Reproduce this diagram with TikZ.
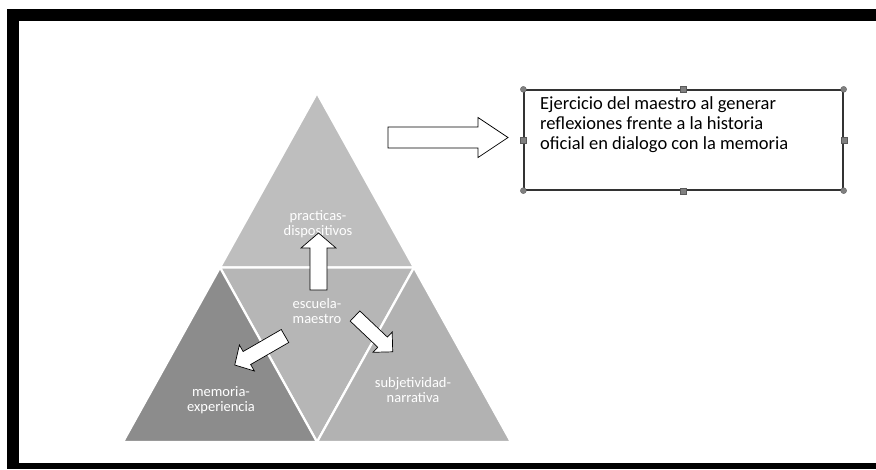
\documentclass[tikz,border=0pt]{standalone}
\usepackage{fontspec}
\setmainfont{Carlito}
\usetikzlibrary{calc}
\definecolor{topgray}{HTML}{BEBEBE}
\definecolor{midgray}{HTML}{B6B6B6}
\definecolor{leftgray}{HTML}{8C8C8C}
\definecolor{rightgray}{HTML}{B2B2B2}
\definecolor{handlegray}{HTML}{808080}
\definecolor{boxline}{HTML}{333333}
% block arrow: tail, angle, length, shaft half width, head half width, head length
\newcommand{\blockarrow}[6]{%
  \filldraw[barrow,shift={#1},rotate=#2]
    (0,#4) -- ({#3-#6},#4) -- ({#3-#6},#5) -- (#3,0) -- ({#3-#6},-#5)
    -- ({#3-#6},-#4) -- (0,-#4) -- cycle;}
\begin{document}
\begin{tikzpicture}[x=1pt,y=-1pt,
  tri/.style={draw=white,line width=2.2pt,line join=miter},
  tlabel/.style={text=white,align=center,inner sep=0pt,
    font=\fontsize{14.5}{14.5}\selectfont},
  barrow/.style={fill=white,draw=black,line width=0.7pt,line join=miter},
  handle/.style={fill=handlegray,draw=handlegray!70!black,line width=0.3pt}]
\useasboundingbox (0,0) rectangle (876,469);

% page frame
\fill[black] (7,9) rectangle (876,21);
\fill[black] (7,9) rectangle (19,469);
\fill[black] (7,463) rectangle (876,469);

% pyramid corners
\coordinate (apex) at (317,93);
\coordinate (bl) at (123,442);
\coordinate (br) at (511,442);
\coordinate (ml) at (220,267.5);
\coordinate (mr) at (414,267.5);
\coordinate (mb) at (317,442);

\filldraw[tri,fill=topgray]   (apex) -- (ml) -- (mr) -- cycle;
\filldraw[tri,fill=midgray]   (ml) -- (mr) -- (mb) -- cycle;
\filldraw[tri,fill=leftgray]  (ml) -- (mb) -- (bl) -- cycle;
\filldraw[tri,fill=rightgray] (mr) -- (br) -- (mb) -- cycle;

% labels
\node[tlabel] (practicas) at (318,224) {practicas-\\dispositivos};
\node[tlabel] (escuela) at (317,311) {escuela-\\maestro};
\node[tlabel] (memoria) at (221,400) {memoria-\\experiencia};
\node[tlabel] (subjetividad) at (413,390) {subjetividad-\\narrativa};

% arrows out of the centre
\coordinate (upTail) at (318.5,290);
\coordinate (dlTail) at (285,336);
\coordinate (drTail) at (355,316);
\blockarrow{(upTail)}{90}{57}{8.5}{17.5}{15}
\blockarrow{(dlTail)}{-150}{58}{7.5}{15}{14}
\blockarrow{(drTail)}{-43.5}{52}{7}{14}{14}

% arrow towards the text box
\coordinate (rTail) at (388,137.5);
\blockarrow{(rTail)}{0}{120}{10.5}{20}{30}

% text box with selection handles
\node[draw=boxline,line width=1.3pt,minimum width=319pt,minimum height=100pt,
  inner sep=0pt] (tbox) at (683.5,140) {};
\node[anchor=north west,align=left,inner sep=0pt,
  font=\fontsize{18.5}{19.8}\selectfont] (tboxtext) at (540,96.5)
  {Ejercicio del maestro al generar\\reflexiones frente a la historia\\oficial en dialogo con la memoria};
\foreach \c in {north west,north east,south west,south east}
  \filldraw[handle] (tbox.\c) circle (3pt);
\foreach \c in {north,south,east,west}
  \filldraw[handle] ($(tbox.\c)+(-3,-3)$) rectangle ++(6,6);
\end{tikzpicture}
\end{document}
